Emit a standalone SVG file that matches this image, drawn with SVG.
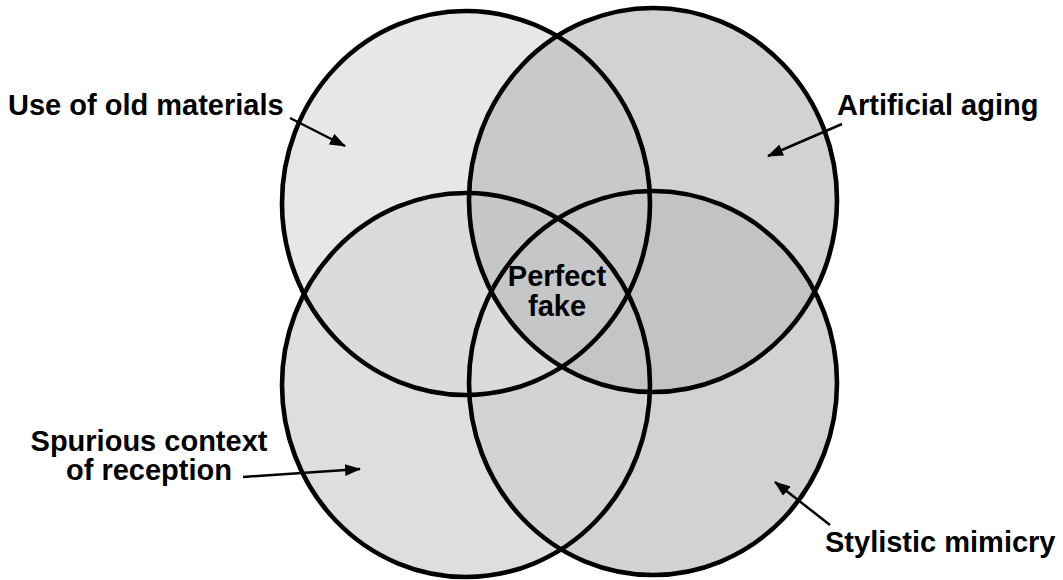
<svg xmlns="http://www.w3.org/2000/svg" xmlns:xlink="http://www.w3.org/1999/xlink" width="1063" height="580" viewBox="0 0 1063 580">
<style>
.lbl{font-family:"Liberation Sans",Arial,sans-serif;font-weight:bold;font-size:29px;fill:#000}
.ring{fill:none;stroke:#000;stroke-width:4.6}
.arr{stroke:#000;stroke-width:2.5;fill:none;marker-end:url(#ah)}
</style>
<defs>
<ellipse id="e1" cx="466" cy="203" rx="184" ry="192"/>
<ellipse id="e2" cx="653" cy="200" rx="184" ry="192"/>
<ellipse id="e3" cx="466" cy="385" rx="184" ry="192"/>
<ellipse id="e4" cx="653" cy="383" rx="184" ry="192"/>
<clipPath id="c1"><use xlink:href="#e1"/></clipPath>
<clipPath id="c2"><use xlink:href="#e2"/></clipPath>
<clipPath id="c3"><use xlink:href="#e3"/></clipPath>
<clipPath id="c4"><use xlink:href="#e4"/></clipPath>
<marker id="ah" viewBox="0 0 16 12" refX="15" refY="6" markerWidth="16" markerHeight="12" markerUnits="userSpaceOnUse" orient="auto">
<path d="M0,0 L16,6 L0,12 Z" fill="#000"/>
</marker>
</defs>
<rect width="1063" height="580" fill="#fff"/>
<g id="fills">
<use xlink:href="#e1" fill="#e6e7e7"/>
<use xlink:href="#e2" fill="#d1d2d4"/>
<use xlink:href="#e3" fill="#dddfdf"/>
<use xlink:href="#e4" fill="#d1d2d4"/>
<g clip-path="url(#c1)"><use xlink:href="#e2" fill="#c8c9cb"/></g>
<g clip-path="url(#c1)"><use xlink:href="#e3" fill="#dadbdd"/></g>
<g clip-path="url(#c2)"><use xlink:href="#e4" fill="#c2c3c5"/></g>
<g clip-path="url(#c3)"><use xlink:href="#e4" fill="#d2d3d5"/></g>
<g clip-path="url(#c1)"><g clip-path="url(#c2)"><use xlink:href="#e3" fill="#c6c7c9"/></g></g>
<g clip-path="url(#c1)"><g clip-path="url(#c2)"><use xlink:href="#e4" fill="#c5c6c8"/></g></g>
<g clip-path="url(#c2)"><g clip-path="url(#c3)"><use xlink:href="#e4" fill="#c4c5c7"/></g></g>
<g clip-path="url(#c1)"><g clip-path="url(#c3)"><use xlink:href="#e4" fill="#dadbdd"/></g></g>
<g clip-path="url(#c1)"><g clip-path="url(#c2)"><g clip-path="url(#c3)"><use xlink:href="#e4" fill="#c5c6c8"/></g></g></g>
</g>
<g id="node-old-materials">
<use xlink:href="#e1" class="ring"/>
<text class="lbl" x="8" y="115">Use of old materials</text>
</g>
<g id="node-artificial-aging">
<use xlink:href="#e2" class="ring"/>
<text class="lbl" x="837" y="115">Artificial aging</text>
</g>
<g id="node-spurious-context">
<use xlink:href="#e3" class="ring"/>
<text class="lbl" text-anchor="middle" x="149" y="451">Spurious context</text>
<text class="lbl" text-anchor="middle" x="149" y="480">of reception</text>
</g>
<g id="node-stylistic-mimicry">
<use xlink:href="#e4" class="ring"/>
<text class="lbl" x="825" y="552">Stylistic mimicry</text>
</g>
<g id="node-perfect-fake">
<text class="lbl" text-anchor="middle" x="557" y="286">Perfect</text>
<text class="lbl" text-anchor="middle" x="557" y="316">fake</text>
</g>
<g id="connectors">
<line class="arr" x1="290" y1="118" x2="345" y2="146"/>
<line class="arr" x1="842" y1="124" x2="768" y2="156"/>
<line class="arr" x1="243" y1="477" x2="360" y2="469"/>
<line class="arr" x1="830" y1="525" x2="775" y2="482"/>
</g>
</svg>
